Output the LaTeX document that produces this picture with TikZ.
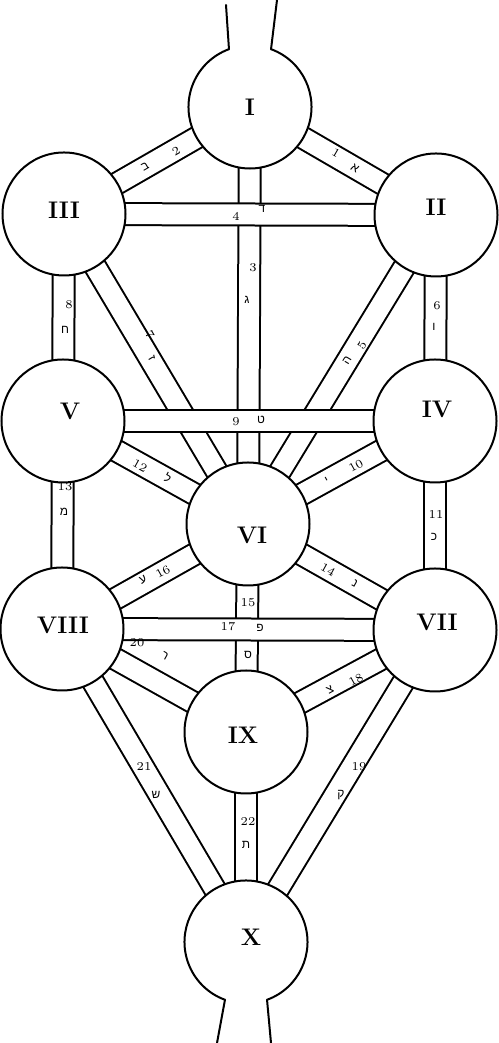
\documentclass[tikz,border=0pt]{standalone}
\usepackage{fontspec}
\newfontfamily\hebfont[Script=Hebrew]{Liberation Sans}
\begin{document}
\tikzset{
  sephira/.style={circle, fill=white, draw=black, line width=1pt, minimum size=61.5pt, inner sep=0pt, outer sep=0pt},
  opensephira/.style={circle, fill=white, draw=none, minimum size=61.5pt, inner sep=0pt, outer sep=0pt},
  ring/.style={line width=1pt, line cap=round},
  band/.style={draw=black, line width=12pt, postaction={draw=white, line width=10pt}},
  numeral/.style={font=\bfseries\fontsize{12}{12}\selectfont, inner sep=0pt},
  num/.style={font=\fontsize{6}{6}\selectfont, inner sep=0pt},
  heb/.style={font=\hebfont\fontsize{6}{6}\selectfont, inner sep=0pt},
}
\begin{tikzpicture}[x=0.5pt, y=0.5pt]
\useasboundingbox (0,0) rectangle (498,1043);
% centres
\coordinate (c1) at (250,936);
\coordinate (c2) at (436,828);
\coordinate (c3) at (64,829);
\coordinate (c4) at (435,622);
\coordinate (c5) at (63,622);
\coordinate (c6) at (248,519);
\coordinate (c7) at (435,413);
\coordinate (c8) at (62,414);
\coordinate (c9) at (246,311);
\coordinate (c10) at (246,101);
% diagonal paths
\path[band] (c1) -- (c2);
\path[band] (c1) -- (c3);
\path[band] (c3) -- (c6);
\path[band] (c2) -- (c6);
\path[band] (c5) -- (c6);
\path[band] (c4) -- (c6);
\path[band] (c6) -- (c7);
\path[band] (c6) -- (c8);
\path[band] (c7) -- (c9);
\path[band] (c8) -- (c9);
\path[band] (c8) -- (c10);
\path[band] (c7) -- (c10);
% vertical paths
\path[band] (c1) -- (c6);
\path[band] (c3) -- (c5);
\path[band] (c2) -- (c4);
\path[band] (c5) -- (c8);
\path[band] (c4) -- (c7);
\path[band] (c6) -- (c9);
\path[band] (c9) -- (c10);
% horizontal paths
\path[band] (c3) -- (c2);
\path[band] (c5) -- (c4);
\path[band] (c8) -- (c7);
% sephiroth
\node[opensephira] (s1) at (c1) {};
\node[sephira] (s2) at (c2) {};
\node[sephira] (s3) at (c3) {};
\node[sephira] (s4) at (c4) {};
\node[sephira] (s5) at (c5) {};
\node[sephira] (s6) at (c6) {};
\node[sephira] (s7) at (c7) {};
\node[sephira] (s8) at (c8) {};
\node[sephira] (s9) at (c9) {};
\node[opensephira] (s10) at (c10) {};
\draw[ring] (s1.70) arc[start angle=70, end angle=-250, radius=30.75pt];
\draw[ring] (s10.290) arc[start angle=-70, end angle=250, radius=30.75pt];
\coordinate (n1) at (226,1038);
\coordinate (n2) at (277,1043);
\coordinate (n3) at (217,0);
\coordinate (n4) at (271,0);
\draw[ring] (s1.110) -- (n1);
\draw[ring] (s1.70) -- (n2);
\draw[ring] (s10.250) -- (n3);
\draw[ring] (s10.290) -- (n4);
% numerals
\node[numeral] (t1) at (250,936) {I};
\node[numeral] (t2) at (436,836) {II};
\node[numeral] (t3) at (64,833) {III};
\node[numeral] (t4) at (437,634) {IV};
\node[numeral] (t5) at (70,632) {V};
\node[numeral] (t6) at (252,508) {VI};
\node[numeral] (t7) at (437,421) {VII};
\node[numeral] (t8) at (63,418) {VIII};
\node[numeral] (t9) at (243,308) {IX};
\node[numeral] (t10) at (251,106) {X};
% path numbers and letters
\node[num, rotate=-30] (p1) at (336,890) {1};
\node[heb, rotate=-30] (h1) at (355,875) {א};
\node[num, rotate=30] (p2) at (176,892) {2};
\node[heb, rotate=30] (h2) at (145,876) {ב};
\node[num] (p3) at (253,775) {3};
\node[heb] (h3) at (247,743) {ג};
\node[num] (p4) at (236,827) {4};
\node[heb] (h4) at (262,834) {ד};
\node[num, rotate=59] (p5) at (362,698) {5};
\node[heb, rotate=59] (h5) at (347,683) {ה};
\node[num] (p6) at (437,737) {6};
\node[heb] (h6) at (434,716) {ו};
\node[num, rotate=-59] (p7) at (150,708) {7};
\node[heb, rotate=-59] (h7) at (152,685) {ז};
\node[num] (p8) at (69,738) {8};
\node[heb] (h8) at (65,713) {ח};
\node[num] (p9) at (236,621) {9};
\node[heb] (h9) at (261,623) {ט};
\node[num, rotate=29] (p10) at (356,577) {10};
\node[heb, rotate=29] (h10) at (327,562) {י};
\node[num] (p11) at (436,528) {11};
\node[heb] (h11) at (434,506) {כ};
\node[num, rotate=-29] (p12) at (140,577) {12};
\node[heb, rotate=-29] (h12) at (168,565) {ל};
\node[num] (p13) at (65,556) {13};
\node[heb] (h13) at (64,531) {מ};
\node[num, rotate=-29] (p14) at (328,473) {14};
\node[heb, rotate=-29] (h14) at (355,460) {נ};
\node[num] (p15) at (248,440) {15};
\node[heb] (h15) at (248,388) {ס};
\node[num, rotate=29] (p16) at (163,471) {16};
\node[heb, rotate=29] (h16) at (143,463) {ע};
\node[num] (p17) at (228,416) {17};
\node[heb] (h17) at (260,415) {פ};
\node[num, rotate=29] (p18) at (356,363) {18};
\node[heb, rotate=29] (h18) at (330,353) {צ};
\node[num] (p19) at (359,276) {19};
\node[heb] (h19) at (341,248) {ק};
\node[num] (p20) at (137,400) {20};
\node[heb, rotate=-29] (h20) at (165,387) {ר};
\node[num] (p21) at (144,276) {21};
\node[heb] (h21) at (156,248) {ש};
\node[num] (p22) at (248,221) {22};
\node[heb] (h22) at (246,198) {ת};
\end{tikzpicture}
\end{document}
